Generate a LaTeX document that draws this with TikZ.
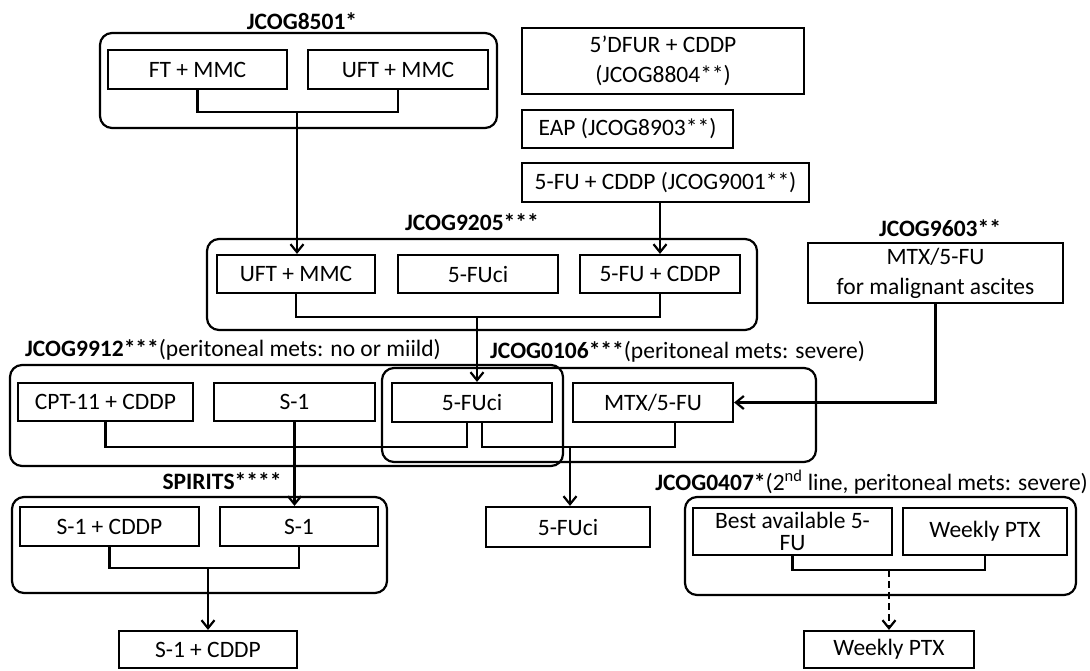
\documentclass[tikz,border=0pt]{standalone}
\usepackage{fontspec}
\setmainfont{Carlito}
\usetikzlibrary{arrows.meta}

\tikzset{
  box/.style={draw, line width=2.2pt, inner sep=0pt, align=center,
    font=\fontsize{23.5}{30}\selectfont},
  grp/.style={draw, line width=2.2pt, rounded corners=12pt, inner sep=0pt},
  lbl/.style={inner sep=0pt, font=\fontsize{23.5}{28}\selectfont},
  link/.style={line width=2.2pt},
  arr/.style={link, -{Straight Barb[length=8pt,width=13pt,line width=2.2pt]}},
}

\begin{document}
\begin{tikzpicture}[x=1pt,y=-1pt]
\useasboundingbox (0,0) rectangle (1090,670);
% JCOG8501
\node[lbl] (l8501) at (302,21) {\bfseries JCOG8501*};
\node[grp, minimum width=397, minimum height=95] (g8501) at (298.5,80.5) {};
\node[box, minimum width=179, minimum height=39] (ft1) at (197.5,69.5) {FT + MMC};
\node[box, minimum width=180, minimum height=39] (uft1) at (398,69.5) {UFT + MMC};
\coordinate (m8501) at (297,112);
\draw[link] (ft1.south) |- (m8501) -| (uft1.south);
% phase II studies
\node[box, minimum width=282, minimum height=66] (dfur) at (663,61) {5’DFUR + CDDP\\(JCOG8804**)};
\node[box, minimum width=211, minimum height=38] (eap) at (627.5,129) {EAP (JCOG8903**)};
\node[box, minimum width=287, minimum height=39] (fu9001) at (665.5,182.5) {5-FU + CDDP (JCOG9001**)};
% JCOG9205
\node[lbl] (l9205) at (472,222) {\bfseries JCOG9205***};
\node[grp, minimum width=550, minimum height=91] (g9205) at (482,284.5) {};
\node[box, minimum width=158, minimum height=38] (uft2) at (296,274) {UFT + MMC};
\node[box, minimum width=160, minimum height=38] (fuci1) at (478,274) {5-FUci};
\node[box, minimum width=160, minimum height=38] (cddp1) at (660,274) {5-FU + CDDP};
\coordinate (m9205) at (477,317);
\draw[link] (uft2.south) |- (m9205) -| (cddp1.south);
\draw[arr] (m8501) -- (m8501 |- uft2.north);
\draw[arr] (cddp1.north |- fu9001.south) -- (cddp1.north);
% JCOG9603
\node[lbl] (l9603) at (940,228) {\bfseries JCOG9603**};
\node[box, minimum width=255, minimum height=60] (asc) at (935.5,273) {MTX/5-FU\\for malignant ascites};
% JCOG9912 and JCOG0106
\node[lbl, anchor=west] (l9912) at (25,350) {{\bfseries JCOG9912***}(peritoneal mets: no or miild)};
\node[lbl, anchor=west] (l0106) at (490,352) {{\bfseries JCOG0106***}(peritoneal mets: severe)};
\node[grp, minimum width=553, minimum height=101] (g9912) at (286.5,415.5) {};
\node[grp, minimum width=434, minimum height=94] (g0106) at (599,415) {};
\node[box, minimum width=175, minimum height=38] (cpt) at (105.5,402) {CPT-11 + CDDP};
\node[box, minimum width=161, minimum height=38] (s1a) at (294.5,402) {S-1};
\node[box, minimum width=160, minimum height=39] (fuci2) at (472,402.5) {5-FUci};
\node[box, minimum width=160, minimum height=39] (mtx) at (653,402.5) {MTX/5-FU};
\coordinate (m9912) at (300,447);
\coordinate (m0106) at (570,447);
\draw[link] (cpt.south) |- (m9912) -| ([xshift=-5pt]fuci2.south);
\draw[link] ([xshift=10pt]fuci2.south) |- (m0106) -| ([xshift=22pt]mtx.south);
\draw[arr] (m9205) -- (m9205 |- fuci2.north);
\draw[arr] (asc.south) |- (mtx.east);
% SPIRITS
\node[lbl] (lsp) at (222,481) {\bfseries SPIRITS****};
\node[grp, minimum width=375, minimum height=96] (gsp) at (199.5,545) {};
\node[box, minimum width=179, minimum height=39] (s1cddp) at (109.5,526.5) {S-1 + CDDP};
\node[box, minimum width=158, minimum height=39] (s1b) at (299,526.5) {S-1};
\coordinate (msp) at (208,568);
\draw[link] (s1cddp.south) |- (msp) -| (s1b.south);
\draw[arr] (s1a.south) -- (s1a.south |- s1b.north);
\node[box, minimum width=178, minimum height=37] (fin1) at (208,649.5) {S-1 + CDDP};
\draw[arr] (msp) -- (fin1.north);
% 5-FUci result
\node[box, minimum width=164, minimum height=40] (fuci3) at (568,527) {5-FUci};
\draw[arr] (m0106) -- (m0106 |- fuci3.north);
% JCOG0407
\node[lbl, anchor=east] (l0407) at (1088,482) {{\bfseries JCOG0407*}(2\textsuperscript{nd} line, peritoneal mets: severe)};
\node[grp, minimum width=391, minimum height=98] (g0407) at (880.5,546) {};
\node[box, minimum width=199, minimum height=47, font=\fontsize{23.5}{22}\selectfont] (best) at (792.5,531.5) {Best available 5-\\FU};
\node[box, minimum width=164, minimum height=47] (wk1) at (985,531.5) {Weekly PTX};
\coordinate (m0407) at (889,570);
\draw[link] (best.south) |- (m0407) -| (wk1.south);
\node[box, minimum width=170, minimum height=37] (fin2) at (889,649.5) {Weekly PTX};
\draw[arr, dash pattern=on 7pt off 4pt] (m0407) -- (fin2.north);
\end{tikzpicture}
\end{document}
